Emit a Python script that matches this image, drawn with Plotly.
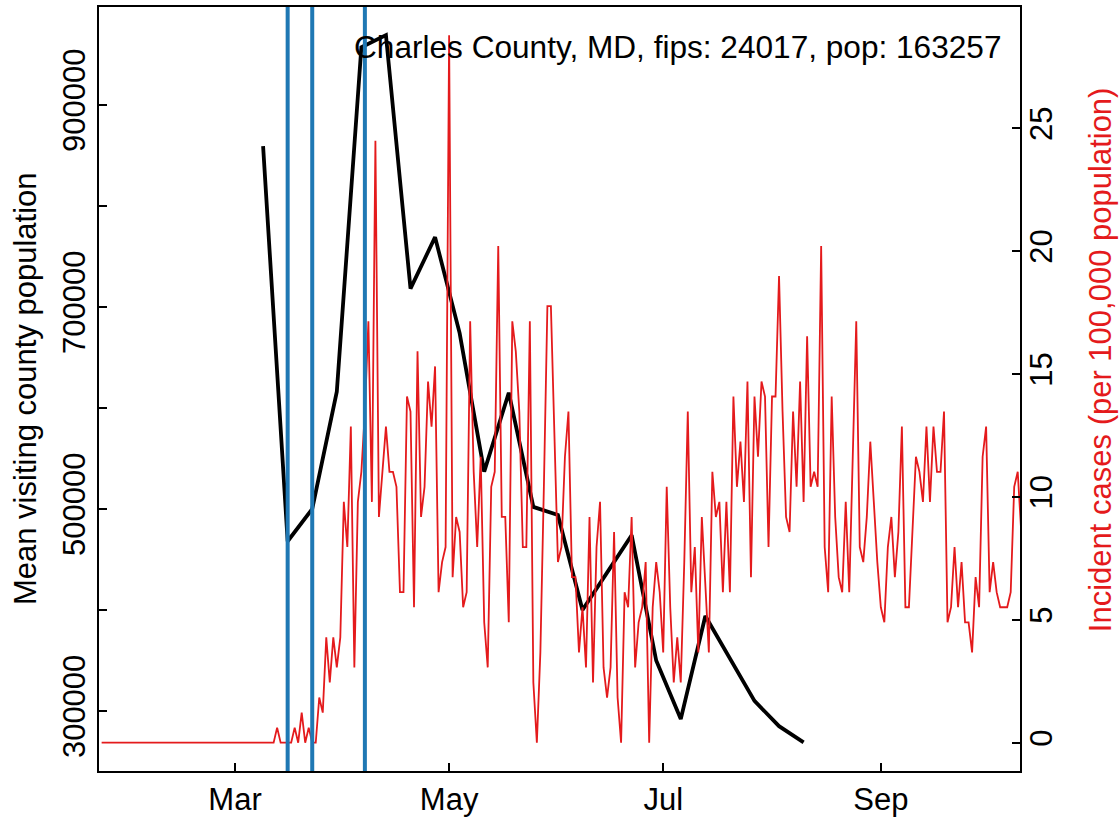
import plotly.graph_objects as go
import pandas as pd

# ---------------- data ----------------
COUNTY_TITLE = "Charles County, MD, fips: 24017, pop: 163257"
POPULATION = 163257

# weekly mean visiting population (black line), starting 2020-03-09
visit_start = "2020-03-09"
mean_visitors = [859000, 468000, 500000, 616000, 957000, 969000, 718000,
                 769000, 674000, 537000, 615000, 502000, 494000, 400000,
                 437000, 474000, 350000, 292000, 394000, 352000, 310000,
                 285000, 269000]

# daily new cases (red line), starting 2020-01-23
case_start = "2020-01-23"
cases_jan = [0, 0, 0, 0, 0, 0, 0, 0, 0]
cases_feb = [0, 0, 0, 0, 0, 0, 0, 0, 0, 0, 0, 0, 0, 0, 0, 0, 0, 0, 0, 0,
             0, 0, 0, 0, 0, 0, 0, 0, 0]
cases_mar = [0, 0, 0, 0, 0, 0, 0, 0, 0, 0, 0, 0, 1, 0, 0, 0, 0, 1, 0, 2,
             0, 1, 0, 0, 3, 2, 7, 4, 7, 5, 7]
cases_apr = [16, 13, 21, 5, 16, 18, 22, 28, 16, 40, 15, 18, 21, 18, 18, 17,
             10, 10, 23, 22, 9, 26, 15, 17, 24, 21, 25, 10, 12, 13]
cases_may = [47, 11, 15, 14, 9, 10, 28, 18, 13, 19, 8, 5, 17, 18, 33, 15,
             15, 8, 28, 26, 22, 13, 13, 28, 4, 0, 6, 17, 29, 29, 20]
cases_jun = [12, 13, 19, 22, 11, 11, 6, 9, 5, 15, 4, 13, 16, 5, 3, 5, 14, 3,
             0, 10, 9, 15, 5, 8, 9, 12, 0, 9, 12, 10]
cases_jul = [6, 17, 9, 4, 7, 4, 12, 22, 10, 13, 6, 15, 10, 6, 18, 15, 16, 10,
             16, 10, 23, 17, 20, 16, 24, 11, 23, 19, 24, 23, 13]
cases_aug = [23, 23, 31, 22, 15, 14, 22, 17, 24, 16, 27, 17, 18, 17, 33, 13,
             10, 23, 15, 11, 10, 16, 10, 19, 28, 13, 12, 15, 20, 16, 12]
cases_sep = [9, 8, 13, 15, 11, 14, 21, 9, 9, 14, 19, 18, 16, 21, 16, 21, 18,
             18, 22, 8, 9, 13, 9, 12, 8, 8, 6, 11, 9, 19]
cases_oct = [21, 10, 12, 10, 9, 9, 9, 10, 17, 18, 14]

event_dates = ["2020-03-16", "2020-03-23", "2020-04-07"]

x_tick_dates = ["2020-03-01", "2020-05-01", "2020-07-01", "2020-09-01"]
x_tick_labels = ["Mar", "May", "Jul", "Sep"]
left_tick_vals = [300000, 400000, 500000, 600000, 700000, 800000, 900000]
left_tick_text = ["300000", "", "500000", "", "700000", "", "900000"]
right_tick_vals = [0, 5, 10, 15, 20, 25]
right_tick_text = ["0", "5", "10", "15", "20", "25"]

# ---------------- derived series ----------------
daily_cases = (cases_jan + cases_feb + cases_mar + cases_apr + cases_may +
               cases_jun + cases_jul + cases_aug + cases_sep + cases_oct)
visit_dates = pd.date_range(visit_start, periods=len(mean_visitors), freq="7D")
case_dates = pd.date_range(case_start, periods=len(daily_cases), freq="D")
incidence = [c / POPULATION * 100000 for c in daily_cases]

RED = "#E41A1C"
BLUE = "#1F78B4"
FONT = "Liberation Sans, Arial, Helvetica, sans-serif"

fig = go.Figure()
fig.add_trace(go.Scatter(x=visit_dates, y=mean_visitors, mode="lines",
                         line=dict(color="black", width=3.8), yaxis="y"))
fig.add_trace(go.Scatter(x=case_dates, y=incidence, mode="lines",
                         line=dict(color=RED, width=1.8), yaxis="y2"))

for d in event_dates:
    fig.add_shape(type="line", xref="x", yref="paper", x0=d, x1=d, y0=0, y1=1,
                  line=dict(color=BLUE, width=4), layer="above")

fig.add_annotation(text=COUNTY_TITLE, xref="paper", yref="paper",
                   x=0.9815, y=0.948, xanchor="right", yanchor="middle",
                   showarrow=False, font=dict(size=31.6, color="black", family=FONT))
fig.add_annotation(text="Mean visiting county population", xref="paper", yref="paper",
                   x=-0.0803, y=0.5, xanchor="center", yanchor="middle", textangle=-90,
                   showarrow=False, font=dict(size=31, color="black", family=FONT))
fig.add_annotation(text="Incident cases (per 100,000 population)", xref="paper", yref="paper",
                   x=1.0869, y=0.5378, xanchor="center", yanchor="middle", textangle=-90,
                   showarrow=False, font=dict(size=31, color=RED, family=FONT))

axis_common = dict(showgrid=False, zeroline=False, ticks="inside", ticklen=8,
                   tickwidth=1.5, tickcolor="black",
                   tickfont=dict(size=31, color="black", family=FONT))

fig.update_layout(
    width=1119, height=822,
    margin=dict(l=99, r=99, t=5, b=49),
    plot_bgcolor="white", paper_bgcolor="white",
    showlegend=False,
    font=dict(family=FONT, size=31, color="black"),
    xaxis=dict(type="date", range=["2020-01-22 06:00", "2020-10-10 15:36"],
               tickmode="array", tickvals=x_tick_dates, ticktext=x_tick_labels,
               showline=True, linecolor="black", linewidth=1.5, mirror=True,
               **axis_common),
    yaxis=dict(range=[240630, 996790], tickmode="array", tickvals=left_tick_vals,
               ticktext=left_tick_text, tickangle=-90,
               showline=True, linecolor="black", linewidth=1.5, mirror=True,
               **axis_common),
    yaxis2=dict(overlaying="y", side="right", range=[-1.1516, 29.94],
                tickmode="array", tickvals=right_tick_vals, ticktext=right_tick_text,
                tickangle=-90, showline=False, **axis_common),
)

fig.write_html("out.html",
               config={"displayModeBar": False},
               post_script="document.body.style.margin='0px';"
                           "document.body.style.padding='0px';"
                           "document.body.style.overflow='hidden';")
